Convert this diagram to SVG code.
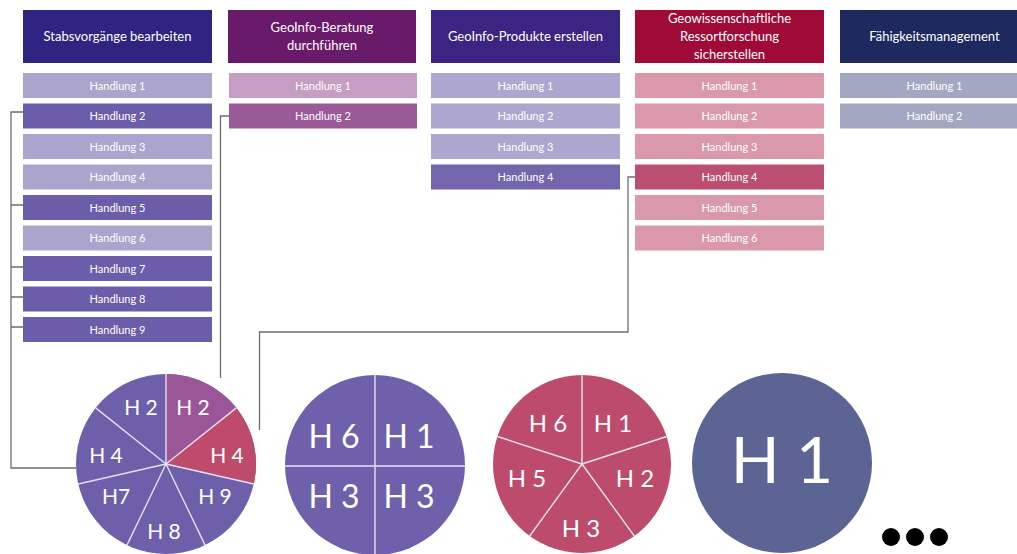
<svg xmlns="http://www.w3.org/2000/svg" width="1017" height="554" viewBox="0 0 1017 554">
  <style>
    .hdr { font-family: Lato, "Liberation Sans", sans-serif; font-size: 13px; fill: #ffffff; text-anchor: middle; }
    .row { font-family: Lato, "Liberation Sans", sans-serif; font-size: 11px; fill: #ffffff; text-anchor: middle; }
    .lbl { font-family: Lato, "Liberation Sans", sans-serif; fill: #ffffff; text-anchor: middle; }
    .conn { fill: none; stroke: #6e6e6e; stroke-width: 1.3; }
    .sep { stroke: #e6e0f0; stroke-width: 1.4; fill: none; }
  </style>
  <rect width="1017" height="554" fill="#ffffff"/>

  <!-- column 1 -->
  <g id="col-stabsvorgaenge">
    <rect x="23" y="10" width="189" height="53" fill="#2f2482"/>
    <text class="hdr" x="117.5" y="41">Stabsvorgänge bearbeiten</text>
    <rect x="23" y="73" width="189" height="25" fill="#aba5cd"/><text class="row" x="117.5" y="89.5">Handlung 1</text>
    <rect x="23" y="103.5" width="189" height="25" fill="#6b5da9"/><text class="row" x="117.5" y="120">Handlung 2</text>
    <rect x="23" y="134" width="189" height="25" fill="#aba5cd"/><text class="row" x="117.5" y="150.5">Handlung 3</text>
    <rect x="23" y="164.5" width="189" height="25" fill="#aba5cd"/><text class="row" x="117.5" y="181">Handlung 4</text>
    <rect x="23" y="195" width="189" height="25" fill="#6b5da9"/><text class="row" x="117.5" y="211.5">Handlung 5</text>
    <rect x="23" y="225.5" width="189" height="25" fill="#aba5cd"/><text class="row" x="117.5" y="242">Handlung 6</text>
    <rect x="23" y="256" width="189" height="25" fill="#6b5da9"/><text class="row" x="117.5" y="272.5">Handlung 7</text>
    <rect x="23" y="286.5" width="189" height="25" fill="#6b5da9"/><text class="row" x="117.5" y="303">Handlung 8</text>
    <rect x="23" y="317" width="189" height="25" fill="#6b5da9"/><text class="row" x="117.5" y="333.5">Handlung 9</text>
  </g>

  <!-- column 2 -->
  <g id="col-beratung">
    <rect x="228" y="10" width="188" height="53" fill="#6a1a6a"/>
    <text class="hdr" x="322" y="32">GeoInfo-Beratung</text>
    <text class="hdr" x="322" y="50">durchführen</text>
    <rect x="229" y="73" width="188" height="25" fill="#c69dc3"/><text class="row" x="323" y="89.5">Handlung 1</text>
    <rect x="229" y="103.5" width="188" height="25" fill="#9a5a98"/><text class="row" x="323" y="120">Handlung 2</text>
  </g>

  <!-- column 3 -->
  <g id="col-produkte">
    <rect x="431" y="10" width="189" height="53" fill="#3c2582"/>
    <text class="hdr" x="525.5" y="41">GeoInfo-Produkte erstellen</text>
    <rect x="431" y="73" width="189" height="25" fill="#ada7cf"/><text class="row" x="525.5" y="89.5">Handlung 1</text>
    <rect x="431" y="103.5" width="189" height="25" fill="#ada7cf"/><text class="row" x="525.5" y="120">Handlung 2</text>
    <rect x="431" y="134" width="189" height="25" fill="#ada7cf"/><text class="row" x="525.5" y="150.5">Handlung 3</text>
    <rect x="431" y="164.5" width="189" height="25" fill="#7366ac"/><text class="row" x="525.5" y="181">Handlung 4</text>
  </g>

  <!-- column 4 -->
  <g id="col-ressortforschung">
    <rect x="635" y="10" width="189" height="53" fill="#a00a36"/>
    <text class="hdr" x="729.5" y="23">Geowissenschaftliche</text>
    <text class="hdr" x="729.5" y="41">Ressortforschung</text>
    <text class="hdr" x="729.5" y="59">sicherstellen</text>
    <rect x="635" y="73" width="189" height="25" fill="#d999aa"/><text class="row" x="729.5" y="89.5">Handlung 1</text>
    <rect x="635" y="103.5" width="189" height="25" fill="#d999aa"/><text class="row" x="729.5" y="120">Handlung 2</text>
    <rect x="635" y="134" width="189" height="25" fill="#d999aa"/><text class="row" x="729.5" y="150.5">Handlung 3</text>
    <rect x="635" y="164.5" width="189" height="25" fill="#bb4f6f"/><text class="row" x="729.5" y="181">Handlung 4</text>
    <rect x="635" y="195" width="189" height="25" fill="#d999aa"/><text class="row" x="729.5" y="211.5">Handlung 5</text>
    <rect x="635" y="225.5" width="189" height="25" fill="#d999aa"/><text class="row" x="729.5" y="242">Handlung 6</text>
  </g>

  <!-- column 5 -->
  <g id="col-faehigkeiten">
    <rect x="840" y="10" width="189" height="53" fill="#1e2960"/>
    <text class="hdr" x="934.5" y="41">Fähigkeitsmanagement</text>
    <rect x="840" y="73" width="189" height="25" fill="#a3a8c2"/><text class="row" x="934.5" y="89.5">Handlung 1</text>
    <rect x="840" y="103.5" width="189" height="25" fill="#a3a8c2"/><text class="row" x="934.5" y="120">Handlung 2</text>
  </g>

  <!-- connectors -->
  <g id="connectors">
    <path class="conn" d="M23,112 H11 V468 H76"/>
    <path class="conn" d="M11,205 H23 M11,267 H23 M11,297 H23 M11,327 H23"/>
    <path class="conn" d="M229,116 H220.5 V378"/>
    <path class="conn" d="M635,177 H628 V332 H259.5 V430"/>
  </g>

  <!-- pie: seven segments -->
  <g id="pie-1">
    <circle cx="166" cy="464" r="90" fill="#6d5faa"/>
    <path d="M166,464 L166,374 A90,90 0 0 1 236.36,407.88 Z" fill="#9a5697"/>
    <path d="M166,464 L236.36,407.88 A90,90 0 0 1 253.75,484.03 Z" fill="#be4b6b"/>
    <path class="sep" d="M166,464 L166,374 M166,464 L236.36,407.88 M166,464 L253.75,484.03 M166,464 L205.05,545.09 M166,464 L126.95,545.09 M166,464 L78.25,484.03 M166,464 L95.64,407.88"/>
    <g class="lbl" font-size="21">
      <text x="141" y="415">H 2</text>
      <text x="193" y="415">H 2</text>
      <text x="106" y="463">H 4</text>
      <text x="227" y="463">H 4</text>
      <text x="116" y="504">H7</text>
      <text x="215" y="504">H 9</text>
      <text x="164" y="539">H 8</text>
    </g>
  </g>

  <!-- pie: four quarters -->
  <g id="pie-2">
    <circle cx="375" cy="465" r="90" fill="#6e60aa"/>
    <path class="sep" d="M375,375 V555 M285,466 H465"/>
    <g class="lbl" font-size="32">
      <text x="334" y="448">H 6</text>
      <text x="409" y="448">H 1</text>
      <text x="334" y="508">H 3</text>
      <text x="409" y="508">H 3</text>
    </g>
  </g>

  <!-- pie: five segments -->
  <g id="pie-3">
    <circle cx="582" cy="464" r="89" fill="#bd4b6c"/>
    <path class="sep" d="M582,464 L582,375 M582,464 L666.65,436.5 M582,464 L634.31,536 M582,464 L529.69,536 M582,464 L497.35,436.5" stroke="#e8c6d0"/>
    <g class="lbl" font-size="24">
      <text x="548" y="432">H 6</text>
      <text x="613" y="432">H 1</text>
      <text x="527" y="487">H 5</text>
      <text x="635" y="487">H 2</text>
      <text x="581" y="537">H 3</text>
    </g>
  </g>

  <!-- single circle -->
  <g id="pie-4">
    <circle cx="782" cy="463" r="90" fill="#5b6493"/>
    <text class="lbl" font-size="64" x="782" y="483">H 1</text>
  </g>

  <!-- continuation dots -->
  <g id="more" fill="#000000">
    <circle cx="891" cy="537" r="9"/>
    <circle cx="915" cy="537" r="9"/>
    <circle cx="939" cy="537" r="9"/>
  </g>
</svg>
